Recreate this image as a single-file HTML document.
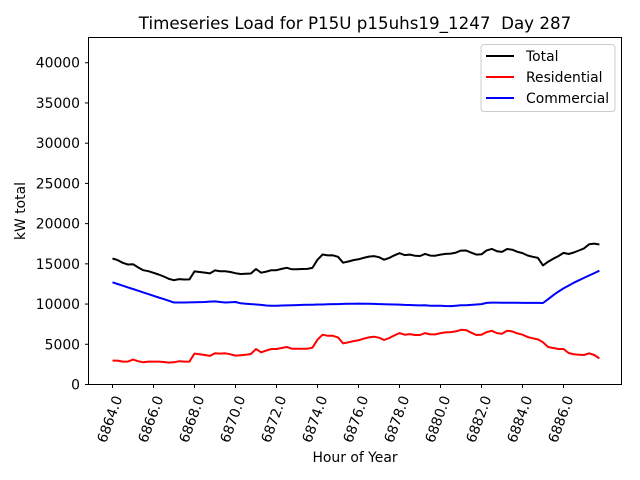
<!DOCTYPE html>
<html><head><meta charset="utf-8"><style>
body{margin:0;background:#fff;}
svg{display:block;font-family:"DejaVu Sans","Liberation Sans",sans-serif;}
</style></head><body>
<svg id="chart" width="640" height="480">
<rect x="0" y="0" width="640" height="480" fill="#fff"/>
<text x="355" y="29" text-anchor="middle" font-size="16.7" xml:space="preserve">Timeseries Load for P15U p15uhs19_1247  Day 287</text>
<g id="yticks"></g><g id="xticks"></g><g id="lines"></g>
<rect x="88.5" y="37.5" width="533" height="347" fill="none" stroke="#000" stroke-width="1"/>
<text x="25" y="211" text-anchor="middle" font-size="13.9" transform="rotate(-90 25 211)">kW total</text>
<text x="355" y="462" text-anchor="middle" font-size="13.9">Hour of Year</text>
<g>
<rect x="481" y="44.5" width="134" height="67" rx="3" fill="#fff" fill-opacity="0.8" stroke="#ccc"/>
<g><line x1="486" y1="56" x2="514" y2="56" stroke="#000" stroke-width="2"/><text x="526" y="61" font-size="13.9">Total</text></g>
<g><line x1="486" y1="77" x2="514" y2="77" stroke="red" stroke-width="2"/><text x="526" y="82" font-size="13.9">Residential</text></g>
<g><line x1="486" y1="98" x2="514" y2="98" stroke="blue" stroke-width="2"/><text x="526" y="103" font-size="13.9">Commercial</text></g>
</g>
</svg>
<script>
const startHour = 6864;
const stepHours = 0.25;
const yTickValues = [0,5000,10000,15000,20000,25000,30000,35000,40000];
const xTickValues = [6864,6866,6868,6870,6872,6874,6876,6878,6880,6882,6884,6886];
const residential = [2970,2970,2850,2850,3090,2900,2760,2850,2850,2850,2800,2720,2760,2900,2850,2850,3840,3760,3670,3550,3880,3840,3880,3760,3590,3640,3710,3795,4410,4000,4210,4410,4410,4540,4660,4455,4455,4455,4455,4580,5570,6190,6060,6060,5860,5115,5240,5400,5500,5690,5860,5940,5820,5530,5780,6110,6390,6190,6270,6150,6150,6390,6230,6230,6390,6480,6520,6600,6800,6760,6440,6150,6190,6520,6680,6390,6310,6680,6600,6350,6190,5900,5740,5610,5240,4660,4540,4410,4410,3920,3760,3710,3670,3880,3670,3250];
const commercial = [12700,12490,12280,12070,11870,11660,11450,11240,11030,10820,10620,10410,10200,10200,10200,10210,10220,10240,10260,10300,10330,10250,10200,10230,10250,10100,10050,10000,9950,9900,9820,9800,9800,9820,9830,9850,9870,9900,9910,9920,9940,9950,9970,9990,10000,10020,10030,10050,10060,10050,10040,10020,10000,9980,9960,9950,9930,9900,9880,9860,9830,9850,9800,9780,9800,9760,9750,9800,9840,9850,9900,9950,10000,10150,10180,10180,10170,10170,10160,10160,10150,10150,10140,10140,10130,10600,11100,11550,11950,12300,12650,12950,13250,13550,13850,14150];
const total = [15670,15460,15130,14920,14960,14560,14210,14090,13880,13670,13420,13130,12960,13100,13050,13060,14060,13980,13910,13810,14180,14090,14080,13990,13840,13740,13760,13795,14360,13900,14030,14210,14210,14370,14510,14325,14325,14355,14365,14500,15520,16160,16050,16060,15880,15145,15290,15460,15560,15740,15900,15960,15820,15510,15740,16060,16320,16090,16150,16010,15980,16240,16030,16010,16150,16240,16270,16400,16640,16660,16390,16150,16190,16670,16860,16570,16480,16840,16760,16500,16340,16040,15880,15740,14800,15260,15640,15960,16360,16220,16410,16660,16920,17430,17520,17400];

const NS='http://www.w3.org/2000/svg';
function xScale(h){return 112.5+(h-6864)*20.5;}
function yScale(v){return 384.5-v*0.008044;}
function mk(tag,attrs){const e=document.createElementNS(NS,tag);for(const k in attrs)e.setAttribute(k,attrs[k]);return e;}

const yt=document.getElementById('yticks');
yTickValues.forEach(v=>{
  const y=yScale(v);
  const g=mk('g',{});
  
  
  g.appendChild(mk('line',{x1:85,y1:y,x2:88.5,y2:y,stroke:'#000'}));
  const t=mk('text',{x:80,y:y+5,'text-anchor':'end','font-size':'13.9'});
  t.textContent=v;
  g.appendChild(t);
  yt.appendChild(g);
});
const xt=document.getElementById('xticks');
xTickValues.forEach(h=>{
  const x=xScale(h);
  const g=mk('g',{});
  
  
  g.appendChild(mk('line',{x1:x,y1:384.5,x2:x,y2:388,stroke:'#000'}));
  const tx=x+10, ty=398;
  const t=mk('text',{x:tx,y:ty,'text-anchor':'end','font-size':'13.9',transform:'rotate(-70 '+tx+' '+ty+')'});
  t.textContent=h.toFixed(1);
  g.appendChild(t);
  xt.appendChild(g);
});
const lg=document.getElementById('lines');
function drawSeries(arr,color,name){
  const pts=arr.map((v,i)=>xScale(startHour+i*stepHours).toFixed(1)+','+yScale(v).toFixed(1)).join(' ');
  const p=mk('polyline',{points:pts,fill:'none',stroke:color,'stroke-width':2,'stroke-linejoin':'round'});
  
  
  lg.appendChild(p);
}
drawSeries(total,'#000','total-line');
drawSeries(residential,'red','residential-line');
drawSeries(commercial,'blue','commercial-line');
</script>
</body></html>
